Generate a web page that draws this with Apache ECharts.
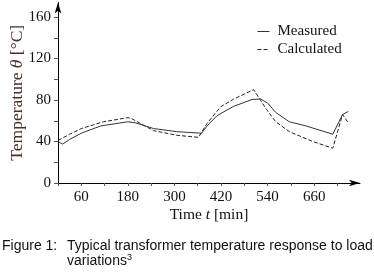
<!DOCTYPE html>
<html>
<head>
<meta charset="utf-8">
<script src="https://cdn.jsdelivr.net/npm/echarts@6/dist/echarts.min.js"></script>
<style>
  html, body { margin: 0; padding: 0; background: #fff; }
  #chart { width: 374px; height: 272px; }
</style>
</head>
<body>
<div id="chart"></div>
<script>
// time [min] and temperature [°C]
const measuredTime = [0, 12, 30, 60, 110, 180, 200, 246, 306, 370, 384, 410, 453, 500, 522, 540, 561, 596, 639, 708, 733, 748];
const measuredTemp = [40, 37.5, 42, 48, 55, 59, 58, 52.5, 49.5, 48, 55, 65, 74, 80.5, 81, 77, 68, 59, 55, 47, 66, 69];
const calcTime = [0, 30, 60, 117, 180, 190, 246, 306, 362, 384, 419, 453, 504, 537, 561, 596, 656, 708, 733, 748];
const calcTemp = [41, 47, 52.5, 59, 63, 62, 50.5, 46, 44, 57.5, 73.5, 81, 90, 71, 59, 49.5, 40, 33.5, 66, 58];
const xTickLabels = [60, 180, 300, 420, 540, 660];
const yTickLabels = [0, 40, 80, 120, 160];

const serif = 'Liberation Serif';
const zip = (a, b) => a.map((t, i) => [t, b[i]]);

const chart = echarts.init(document.getElementById('chart'));
chart.setOption({
  animation: false,
  grid: {left: 58, right: 14, top: 2.5, bottom: 89, outerBoundsMode: 'none', containLabel: false},
  legend: {
    orient: 'vertical',
    left: 252,
    top: 19,
    itemWidth: 12,
    itemHeight: 8,
    itemGap: 3,
    itemStyle: {opacity: 0},
    lineStyle: {width: 1},
    textStyle: {fontFamily: serif, fontSize: 15, color: '#111', padding: [0, 0, 0, 3]},
    data: ['Measured', 'Calculated'],
  },
  xAxis: {
    type: 'value',
    min: 0,
    max: 778,
    interval: 60,
    name: '{n|Time }{i|t}{n| [min]}',
    nameLocation: 'middle',
    nameGap: 24,
    nameMoveOverlap: false,
    nameTextStyle: {
      rich: {
        n: {fontFamily: serif, fontSize: 15.5, color: '#111'},
        i: {fontFamily: serif, fontSize: 15.5, fontStyle: 'italic', color: '#111'},
      },
    },
    axisLine: {lineStyle: {color: '#000', width: 1}, symbol: ['none', 'arrow'], symbolSize: [5, 11]},
    axisTick: {length: 3, lineStyle: {color: '#555'}},
    axisLabel: {
      margin: 7,
      fontFamily: serif,
      fontSize: 15,
      color: '#111',
      showMaxLabel: false,
      formatter: v => (xTickLabels.includes(v) ? String(v) : ''),
    },
    splitLine: {show: false},
  },
  yAxis: {
    type: 'value',
    min: 0,
    max: 174,
    interval: 20,
    name: '{n|Temperature }{i|θ}{n| [°C]}',
    nameLocation: 'middle',
    nameGap: 32,
    nameMoveOverlap: false,
    nameTextStyle: {
      rich: {
        n: {fontFamily: serif, fontSize: 17.5, color: '#4a3028'},
        i: {fontFamily: serif, fontSize: 17.5, fontStyle: 'italic', color: '#4a3028'},
      },
    },
    axisLine: {show: true, lineStyle: {color: '#000', width: 1}, symbol: ['none', 'arrow'], symbolSize: [5, 11]},
    axisTick: {show: true, length: 4, lineStyle: {color: '#555'}},
    axisLabel: {
      margin: 7,
      fontFamily: serif,
      fontSize: 15,
      color: '#111',
      showMaxLabel: false,
      formatter: v => (yTickLabels.includes(v) ? String(v) : ''),
    },
    splitLine: {show: false},
  },
  series: [
    {
      name: 'Measured',
      type: 'line',
      data: zip(measuredTime, measuredTemp),
      showSymbol: false,
      symbol: 'none',
      lineStyle: {color: '#333', width: 1},
      itemStyle: {color: '#333'},
    },
    {
      name: 'Calculated',
      type: 'line',
      data: zip(calcTime, calcTemp),
      showSymbol: false,
      symbol: 'none',
      lineStyle: {color: '#222', width: 1, type: [4, 2]},
      itemStyle: {color: '#222'},
    },
  ],
  graphic: [
    {
      type: 'text',
      left: 2,
      top: 239,
      style: {text: 'Figure 1:', font: '14px "Liberation Sans"', fill: '#111'},
    },
    {
      type: 'text',
      left: 67,
      top: 239,
      style: {text: 'Typical transformer temperature response to load', font: '14px "Liberation Sans"', fill: '#111'},
    },
    {
      type: 'text',
      left: 67,
      top: 253,
      style: {
        text: '{a|variations}{s|3}',
        rich: {
          a: {fontFamily: 'Liberation Sans', fontSize: 14, fill: '#111'},
          s: {fontFamily: 'Liberation Sans', fontSize: 9, fill: '#111', padding: [0, 0, 7, 0]},
        },
      },
    },
  ],
});
</script>
</body>
</html>
